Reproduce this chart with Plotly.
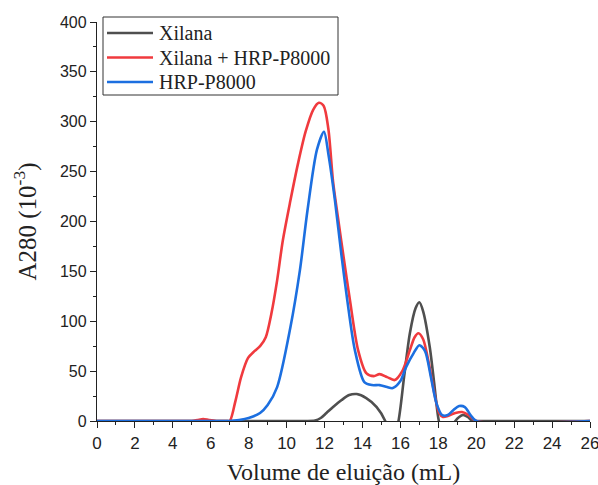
import plotly.graph_objects as go

# Elution volume (mL) and absorbance A280 (x10^-3)
xil_x = [0, 2, 4, 6, 8, 10, 11.0, 11.5, 11.8, 12.1, 12.45, 12.9, 13.3, 13.7, 14.2, 14.75, 15.2, 15.55, 15.9, 16.2, 16.5, 16.8, 17.0, 17.2, 17.55, 17.8, 18.0, 18.3, 18.6, 18.9, 19.1, 19.3, 19.55, 19.8, 20.0, 26]
xil_y = [0, 0, 0, 0, 0, 0, 0, 0.5, 3, 8, 14, 21, 26, 27, 23, 14, 0, -25, 0, 45, 88, 113, 119, 110, 74, 35, 3, -20, -10, 0, 4, 6, 4, 0, 0, 0]

mix_x = [0, 2, 4, 5.0, 5.3, 5.6, 5.9, 6.3, 6.8, 7.0, 7.3, 7.6, 7.96, 8.3, 8.6, 8.9, 9.2, 9.5, 9.8, 10.2, 10.6, 11.0, 11.4, 11.7, 11.95, 12.2, 12.45, 12.7, 13.0, 13.34, 13.77, 14.2, 14.6, 14.9, 15.3, 15.7, 16.1, 16.5, 16.75, 16.95, 17.2, 17.5, 17.8, 18.05, 18.25, 18.5, 18.9, 19.25, 19.6, 20.0, 26]
mix_y = [0, 0, 0, 0, 1, 2, 1, 0, 0, 0, 20, 44, 63, 70, 75, 84, 108, 141, 181, 221, 258, 290, 312, 319, 316, 293, 240, 205, 165, 121, 71, 48, 45, 47, 44, 41, 50, 71, 84, 88, 82, 58, 27, 8, 4, 5, 8, 9, 6, 0, 0]

hrp_x = [0, 2, 4, 6, 7.0, 7.5, 8.0, 8.6, 9.0, 9.5, 10.2, 10.7, 11.1, 11.6, 11.97, 12.2, 12.55, 12.9, 13.2, 13.6, 14.1, 14.5, 14.9, 15.3, 15.6, 16.0, 16.3, 16.7, 17.0, 17.3, 17.6, 17.9, 18.2, 18.5, 18.8, 19.1, 19.4, 19.7, 20.0, 26]
hrp_y = [0, 0, 0, 0, 0, 1, 3, 8, 16, 34, 94, 151, 211, 272, 290, 268, 221, 165, 121, 71, 39, 36, 36, 34, 33, 40, 54, 68, 76, 70, 45, 18, 6, 6, 11, 15, 14, 6, 0, 0]

series = [
    ("Xilana", xil_x, xil_y, "#4f4f4f"),
    ("Xilana + HRP-P8000", mix_x, mix_y, "#f03a3e"),
    ("HRP-P8000", hrp_x, hrp_y, "#1c6fe0"),
]

fig = go.Figure()
for name, xs, ys, col in series:
    fig.add_trace(go.Scatter(x=xs, y=ys, mode="lines", name=name, showlegend=False,
                             line=dict(color=col, width=2.6, shape="spline", smoothing=0.8)))

# Compact legend box (paper coordinates), built from the series list
L, R, T, B = 97, 590, 22, 421
W, H = R - L, B - T
def px(x): return (x - L) / W
def py(y): return (B - y) / H

shapes = [dict(type="rect", xref="paper", yref="paper",
               x0=px(103), x1=px(338), y0=py(95), y1=py(17),
               line=dict(color="#333", width=1), fillcolor="white", layer="above")]
annotations = []
for i, (name, _, _, col) in enumerate(series):
    yy = 33 + i * 24.5
    shapes.append(dict(type="line", xref="paper", yref="paper",
                       x0=px(107), x1=px(153), y0=py(yy), y1=py(yy),
                       line=dict(color=col, width=2.6), layer="above"))
    annotations.append(dict(text=name, xref="paper", yref="paper",
                            x=px(157), y=py(yy), xanchor="left", yanchor="middle",
                            showarrow=False,
                            font=dict(family="Liberation Serif, Times New Roman", size=20, color="#222")))

axis_common = dict(showline=True, linecolor="#222", linewidth=1.3, mirror=False,
                   ticks="outside", ticklen=6, tickwidth=1.2, tickcolor="#222",
                   showgrid=False, zeroline=False, ticklabeloverflow="allow",
                   automargin=False)

fig.update_layout(
    width=598, height=485,
    margin=dict(l=97, r=8, t=22, b=64),
    plot_bgcolor="white", paper_bgcolor="white",
    xaxis=dict(range=[0, 26], dtick=2, tick0=0,
               minor=dict(dtick=1, ticks="outside", ticklen=3, tickcolor="#222", tickwidth=1),
               tickfont=dict(family="Liberation Sans, Arial", size=17, color="#222"),
               title=dict(text="Volume de eluição (mL)", standoff=16,
                          font=dict(family="Liberation Serif, Times New Roman", size=24, color="#222")),
               **axis_common),
    yaxis=dict(range=[0, 400], dtick=50, tick0=0,
               minor=dict(dtick=25, ticks="outside", ticklen=3, tickcolor="#222", tickwidth=1),
               tickfont=dict(family="Liberation Sans, Arial", size=16, color="#222"),
               title=dict(text="A280 (10<sup>-3</sup>)", standoff=16,
                          font=dict(family="Liberation Serif, Times New Roman", size=25, color="#222")),
               **axis_common),
    shapes=shapes,
    annotations=annotations,
    showlegend=False,
)

fig.write_html("out.html")
